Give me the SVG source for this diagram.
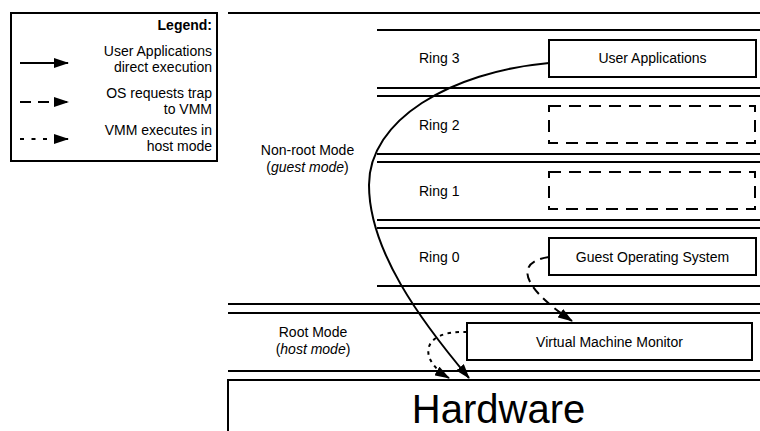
<svg xmlns="http://www.w3.org/2000/svg" width="760" height="431" viewBox="0 0 760 431">
<style>
  text { font-family: "Liberation Sans", Arial, sans-serif; font-size: 14px; fill: #000; }
  .c { text-anchor: middle; }
  .r { text-anchor: end; }
  .sep { stroke: #000; stroke-width: 2; fill: none; }
  .box { stroke: #000; stroke-width: 2; fill: #fff; }
  .dbox { stroke: #000; stroke-width: 2; fill: #fff; stroke-dasharray: 12 8; }
  .conn { stroke: #000; stroke-width: 2; fill: none; }
  .dash { stroke-dasharray: 9 6; }
  .dot { stroke-dasharray: 3.5 4.5; }
</style>
<defs>
  <marker id="ah" markerUnits="userSpaceOnUse" markerWidth="16" markerHeight="10" refX="14" refY="5" orient="auto">
    <path d="M0,0 L15,5 L0,10 z" fill="#000"/>
  </marker>
</defs>
<rect width="760" height="431" fill="#fff"/>

<g id="layers">
  <line class="sep" x1="228" y1="13" x2="760" y2="13"/>
  <line class="sep" x1="377" y1="30" x2="760" y2="30"/>
  <line class="sep" x1="377" y1="88" x2="760" y2="88"/>
  <line class="sep" x1="377" y1="96" x2="760" y2="96"/>
  <line class="sep" x1="377" y1="154" x2="760" y2="154"/>
  <line class="sep" x1="377" y1="162" x2="760" y2="162"/>
  <line class="sep" x1="377" y1="220" x2="760" y2="220"/>
  <line class="sep" x1="377" y1="228" x2="760" y2="228"/>
  <line class="sep" x1="377" y1="286" x2="760" y2="286"/>
  <line class="sep" x1="228" y1="304" x2="760" y2="304"/>
  <line class="sep" x1="228" y1="313" x2="760" y2="313"/>
  <line class="sep" x1="228" y1="371" x2="760" y2="371"/>
</g>

<g id="mode-labels">
  <text class="c" x="307.5" y="155">Non-root Mode</text>
  <text class="c" x="307.5" y="172">(<tspan font-style="italic">guest mode</tspan>)</text>
  <text class="c" x="313" y="337">Root Mode</text>
  <text class="c" x="313" y="354">(<tspan font-style="italic">host mode</tspan>)</text>
</g>

<g id="ring-labels">
  <text x="419" y="63">Ring 3</text>
  <text x="419" y="129.5">Ring 2</text>
  <text x="419" y="195.5">Ring 1</text>
  <text x="419" y="261.5">Ring 0</text>
</g>

<g id="user-applications">
  <rect class="box" x="549" y="40" width="207" height="37"/>
  <text class="c" x="652.5" y="63">User Applications</text>
</g>
<g id="ring2-slot">
  <rect class="dbox" x="549" y="106" width="206" height="37"/>
</g>
<g id="ring1-slot">
  <rect class="dbox" x="549" y="172" width="206" height="37"/>
</g>
<g id="guest-os">
  <rect class="box" x="549" y="238" width="207" height="37"/>
  <text class="c" x="652.5" y="261.5">Guest Operating System</text>
</g>
<g id="vmm">
  <rect class="box" x="467" y="323" width="285" height="37"/>
  <text class="c" x="609.5" y="346.5">Virtual Machine Monitor</text>
</g>
<g id="hardware">
  <rect class="box" x="228" y="380" width="560" height="70"/>
  <text class="c" x="498.5" y="423" style="font-size:40px">Hardware</text>
</g>

<g id="connectors">
  <path class="conn" d="M549,63 C450,72 369,120 369,185 C369,250 420,320 469,378" marker-end="url(#ah)"/>
  <path class="conn dash" d="M549,257 C515,262 520,286 572,321" marker-end="url(#ah)"/>
  <path class="conn dot" d="M467,332 C420,330 418,360 449,378" marker-end="url(#ah)"/>
</g>

<g id="legend">
  <rect class="box" x="11" y="13" width="206" height="148"/>
  <text class="r" x="212" y="30" font-weight="bold">Legend:</text>
  <text class="r" x="212" y="56">User Applications</text>
  <text class="r" x="212" y="72">direct execution</text>
  <text class="r" x="212" y="98">OS requests trap</text>
  <text class="r" x="212" y="114">to VMM</text>
  <text class="r" x="212" y="135">VMM executes in</text>
  <text class="r" x="212" y="151">host mode</text>
  <line class="conn" x1="20" y1="63" x2="68" y2="63" marker-end="url(#ah)"/>
  <line class="conn" x1="20" y1="102" x2="68" y2="102" style="stroke-dasharray:11 7" marker-end="url(#ah)"/>
  <line class="conn" x1="20" y1="139" x2="68" y2="139" style="stroke-dasharray:4 7.5" marker-end="url(#ah)"/>
</g>
</svg>
